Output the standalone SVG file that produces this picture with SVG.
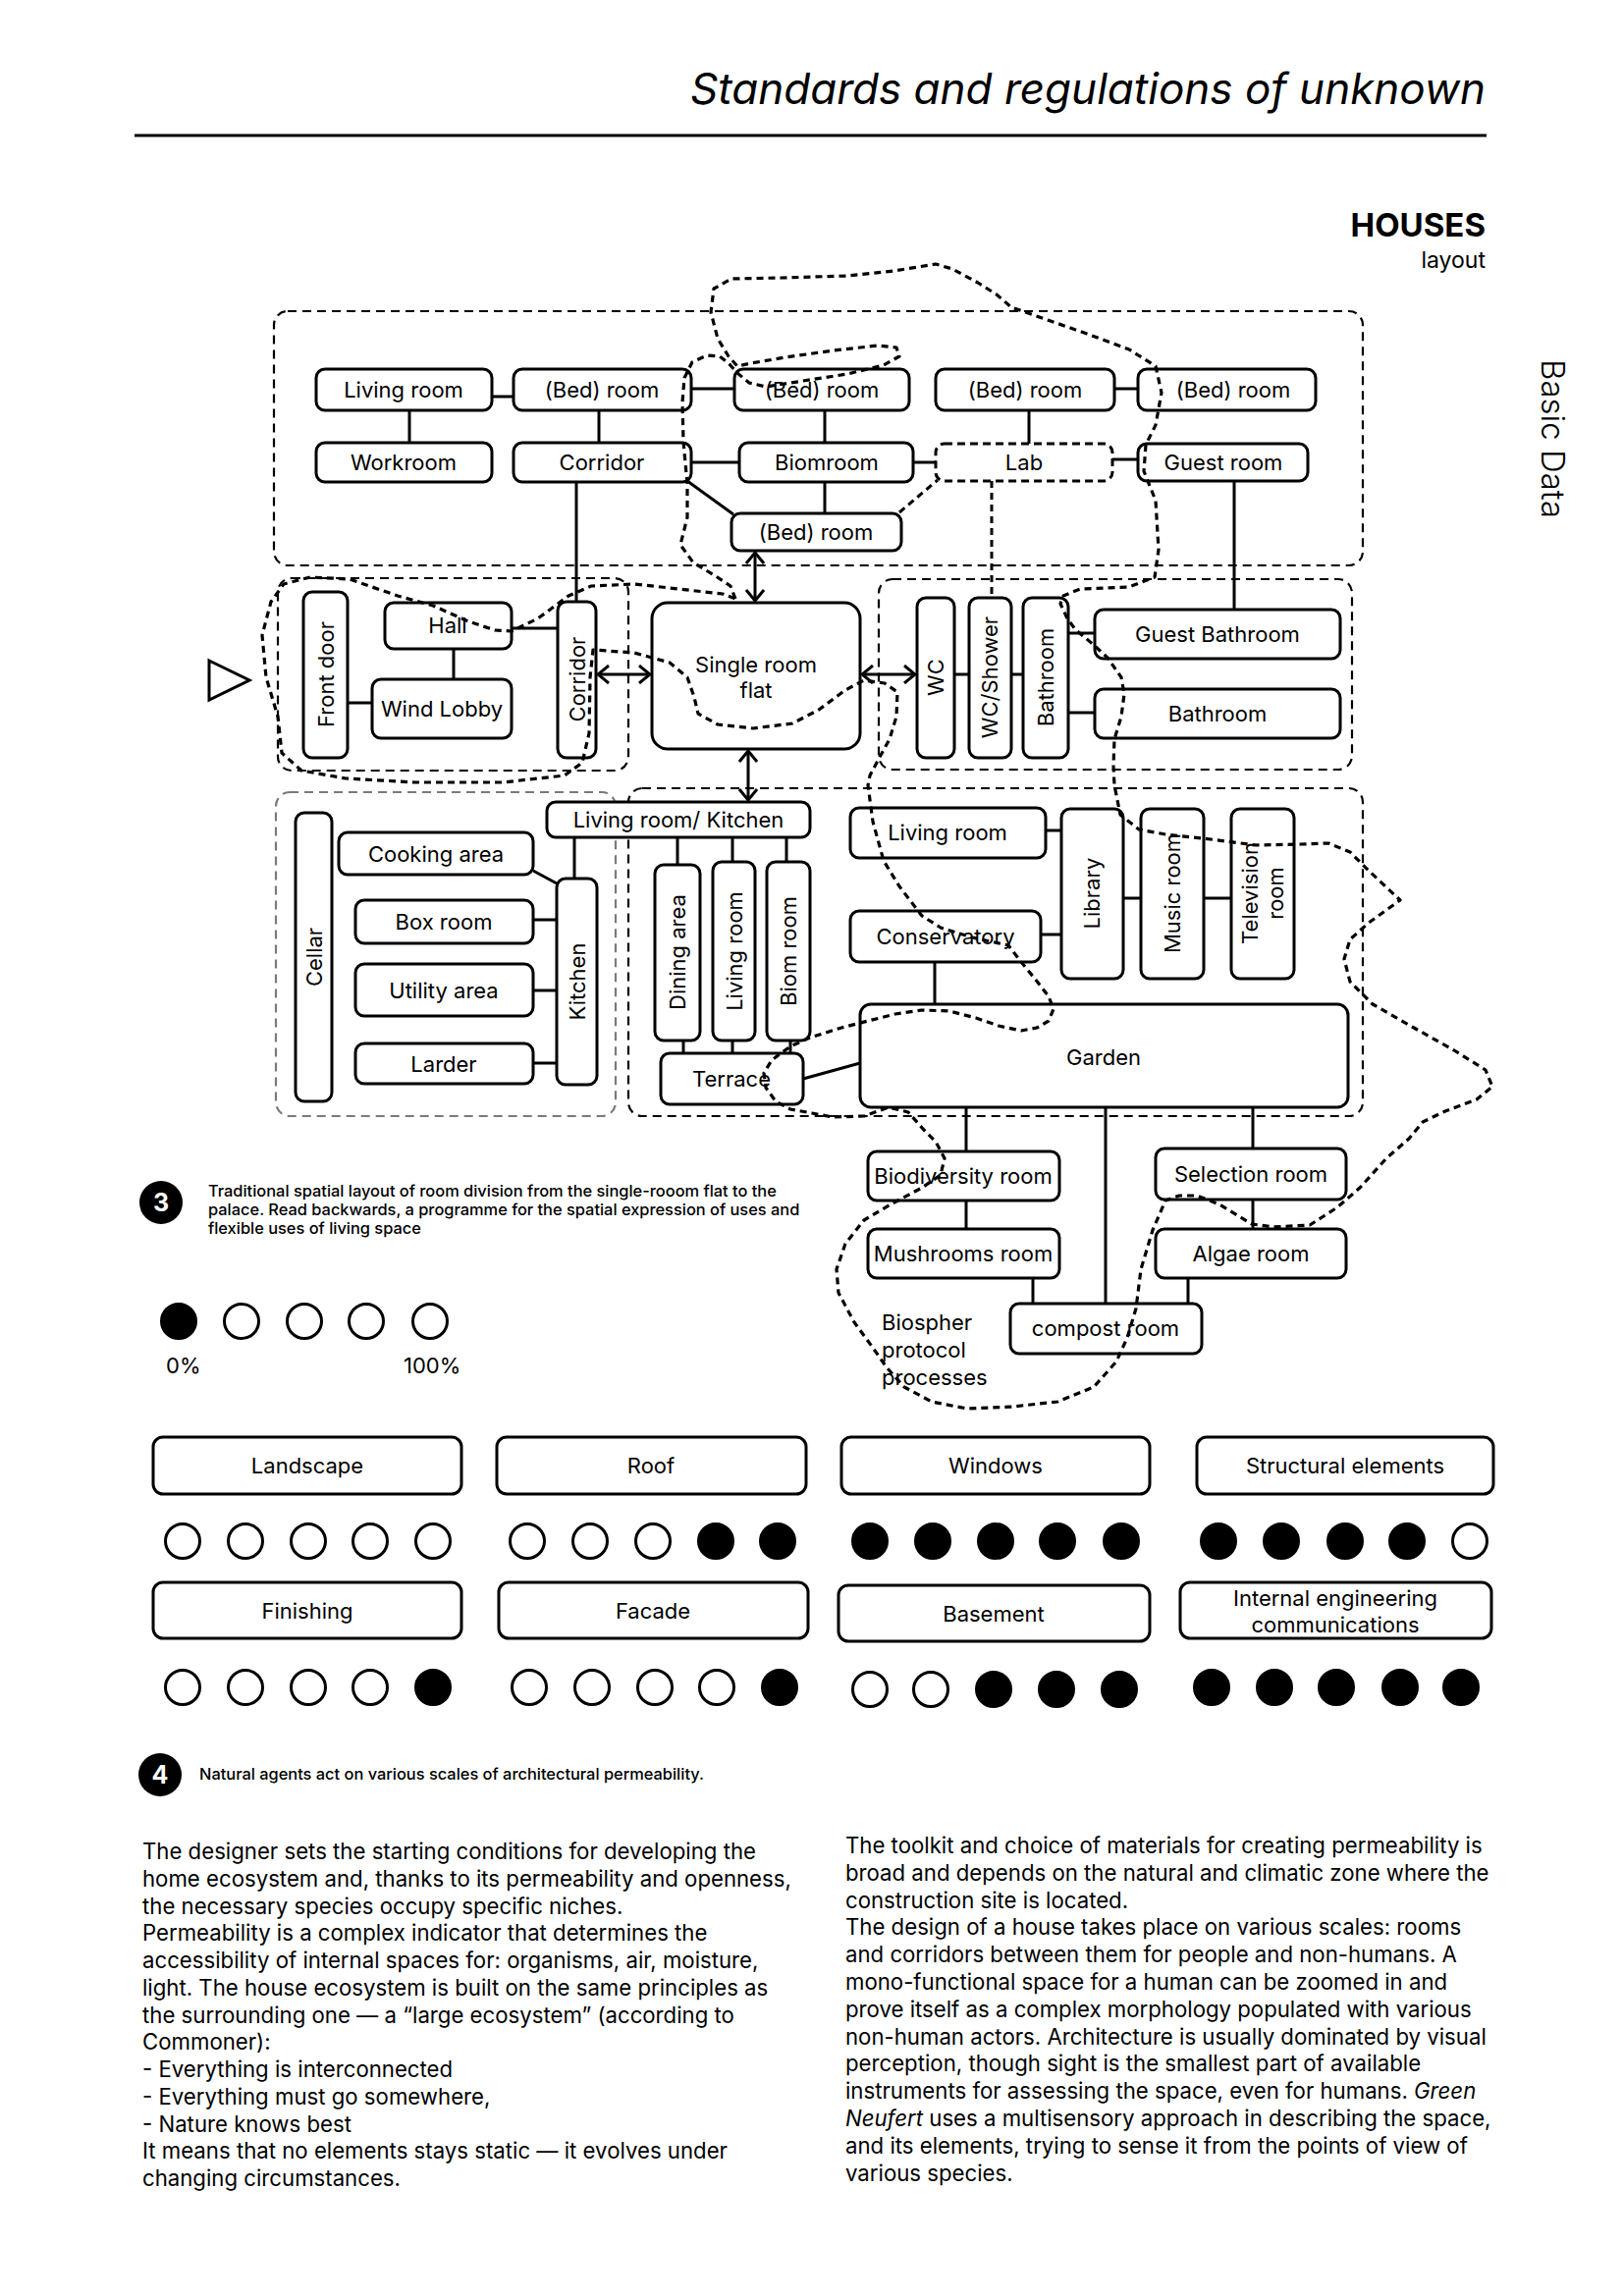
<svg xmlns="http://www.w3.org/2000/svg" width="1653" height="2339" viewBox="0 0 1653 2339">
<defs>
<style>
.box{fill:#fff;stroke:#000;stroke-width:3}
.lab{fill:#fff;stroke:#000;stroke-width:3;stroke-dasharray:8 5}
.cont{fill:none;stroke:#000;stroke-width:2.2;stroke-dasharray:9 6}
.contg{fill:none;stroke:#7a7a7a;stroke-width:2.2;stroke-dasharray:9 6}
.ln{stroke:#000;stroke-width:3;fill:none}
.dln{stroke:#000;stroke-width:3;fill:none;stroke-dasharray:7 5}
.arr{stroke:#000;stroke-width:3;fill:none;marker-start:url(#chev);marker-end:url(#chev)}
.blob{fill:none;stroke:#000;stroke-width:3.2;stroke-dasharray:7 5;stroke-linejoin:round;stroke-linecap:butt}
.t{font-family:Inter,"Liberation Sans",sans-serif;font-size:22px;text-anchor:middle;fill:#000}
.g{fill:#fff;stroke:#000;stroke-width:3}
.f{fill:#000;stroke:#000;stroke-width:3}
.body{font-family:Inter,"Liberation Sans",sans-serif;font-size:22.2px;fill:#000}
.cap{font-family:Inter,"Liberation Sans",sans-serif;font-size:16.4px;font-weight:500;fill:#000}
</style>
<marker id="chev" viewBox="0 0 14 20" refX="13" refY="10" markerWidth="14" markerHeight="20" markerUnits="userSpaceOnUse" orient="auto-start-reverse">
<path d="M2,1 L13,10 L2,19" fill="none" stroke="#000" stroke-width="3"/>
</marker>
</defs>
<rect width="1653" height="2339" fill="#fff"/>

<g id="header">
<text x="1513" y="106" font-family="Inter,'Liberation Sans',sans-serif" font-style="italic" font-size="44" text-anchor="end">Standards and regulations of unknown</text>
<line x1="137" y1="138" x2="1514" y2="138" stroke="#000" stroke-width="3"/>
<text x="1513" y="241" font-family="Inter,'Liberation Sans',sans-serif" font-weight="700" font-size="33" text-anchor="end">HOUSES</text>
<text x="1513" y="273" font-family="Inter,'Liberation Sans',sans-serif" font-size="23" text-anchor="end">layout</text>
<text transform="translate(1570,447) rotate(90)" font-family="Inter,'Liberation Sans',sans-serif" font-weight="300" font-size="33" text-anchor="middle">Basic Data</text>
</g>

<g id="containers">
<rect class="cont" x="279" y="317" width="1109" height="259" rx="14"/>
<rect class="cont" x="283" y="589" width="357" height="196" rx="14"/>
<rect class="cont" x="895" y="590" width="482" height="194" rx="14"/>
<rect class="contg" x="281" y="807" width="346" height="330" rx="14"/>
<rect class="cont" x="640" y="803" width="748" height="334" rx="14"/>
</g>

<g id="entry">
<path d="M213,673 L254,693 L213,713 Z" fill="none" stroke="#000" stroke-width="3"/>
</g>

<g id="connectors">
<line class="ln" x1="501" y1="404" x2="523" y2="404"/>
<line class="ln" x1="417" y1="418" x2="417" y2="451"/>
<line class="ln" x1="610" y1="418" x2="610" y2="451"/>
<line class="ln" x1="704" y1="396" x2="748" y2="396"/>
<line class="ln" x1="704" y1="471" x2="753" y2="471"/>
<line class="ln" x1="840" y1="418" x2="840" y2="451"/>
<line class="ln" x1="840" y1="491" x2="840" y2="523"/>
<line class="ln" x1="700" y1="490" x2="747" y2="524"/>
<line class="ln" x1="1135" y1="396" x2="1159" y2="396"/>
<line class="ln" x1="1048" y1="418" x2="1048" y2="452"/>
<line class="ln" x1="1133" y1="468" x2="1159" y2="468"/>
<line class="ln" x1="930" y1="471" x2="953" y2="471"/>
<line class="dln" x1="916" y1="522" x2="955" y2="489"/>
<line class="dln" x1="1010" y1="490" x2="1010" y2="609"/>
<line class="ln" x1="1257" y1="490" x2="1257" y2="621"/>
<line class="ln" x1="587" y1="491" x2="587" y2="613"/>
<line class="ln" x1="462" y1="661" x2="462" y2="692"/>
<line class="ln" x1="354" y1="716" x2="379" y2="716"/>
<line class="ln" x1="521" y1="640" x2="568" y2="640"/>
<line class="ln" x1="972" y1="687" x2="987" y2="687"/>
<line class="ln" x1="1030" y1="687" x2="1042" y2="687"/>
<line class="ln" x1="1088" y1="645" x2="1115" y2="645"/>
<line class="ln" x1="1088" y1="726" x2="1115" y2="726"/>
<line class="ln" x1="543" y1="887" x2="567" y2="900"/>
<line class="ln" x1="543" y1="937" x2="567" y2="937"/>
<line class="ln" x1="543" y1="1009" x2="567" y2="1009"/>
<line class="ln" x1="543" y1="1083" x2="567" y2="1083"/>
<line class="ln" x1="585" y1="853" x2="585" y2="895"/>
<line class="ln" x1="690" y1="853" x2="690" y2="881"/>
<line class="ln" x1="746" y1="853" x2="746" y2="878"/>
<line class="ln" x1="801" y1="853" x2="801" y2="878"/>
<line class="ln" x1="696" y1="1060" x2="696" y2="1073"/>
<line class="ln" x1="746" y1="1060" x2="746" y2="1073"/>
<line class="ln" x1="805" y1="1060" x2="805" y2="1073"/>
<line class="ln" x1="818" y1="1099" x2="876" y2="1083"/>
<line class="ln" x1="1065" y1="846" x2="1081" y2="846"/>
<line class="ln" x1="1060" y1="952" x2="1081" y2="952"/>
<line class="ln" x1="1144" y1="915" x2="1162" y2="915"/>
<line class="ln" x1="1226" y1="915" x2="1254" y2="915"/>
<line class="ln" x1="952" y1="980" x2="952" y2="1023"/>
<line class="ln" x1="984" y1="1128" x2="984" y2="1173"/>
<line class="ln" x1="984" y1="1223" x2="984" y2="1252"/>
<line class="ln" x1="1126" y1="1128" x2="1126" y2="1328"/>
<line class="ln" x1="1276" y1="1128" x2="1276" y2="1170"/>
<line class="ln" x1="1276" y1="1222" x2="1276" y2="1252"/>
<line class="ln" x1="1052" y1="1302" x2="1052" y2="1328"/>
<line class="ln" x1="1210" y1="1302" x2="1210" y2="1328"/>
<line class="arr" x1="769" y1="563" x2="769" y2="612"/>
<line class="arr" x1="609" y1="687" x2="662" y2="687"/>
<line class="arr" x1="878" y1="687" x2="932" y2="687"/>
<line class="arr" x1="762" y1="765" x2="762" y2="815"/>
</g>

<g id="n-living1"><rect class="box" x="322" y="376" width="179" height="42" rx="9"/><text class="t" x="411" y="405">Living room</text></g>
<g id="n-bed1"><rect class="box" x="523" y="376" width="181" height="42" rx="9"/><text class="t" x="613" y="405">(Bed) room</text></g>
<g id="n-bed2"><rect class="box" x="748" y="376" width="178" height="42" rx="9"/><text class="t" x="837" y="405">(Bed) room</text></g>
<g id="n-bed3"><rect class="box" x="953" y="376" width="182" height="42" rx="9"/><text class="t" x="1044" y="405">(Bed) room</text></g>
<g id="n-bed4"><rect class="box" x="1159" y="376" width="181" height="42" rx="9"/><text class="t" x="1256" y="405">(Bed) room</text></g>
<g id="n-work"><rect class="box" x="322" y="451" width="179" height="40" rx="9"/><text class="t" x="411" y="479">Workroom</text></g>
<g id="n-corridor1"><rect class="box" x="523" y="451" width="181" height="40" rx="9"/><text class="t" x="613" y="479">Corridor</text></g>
<g id="n-biomroom"><rect class="box" x="753" y="451" width="177" height="40" rx="9"/><text class="t" x="842" y="479">Biomroom</text></g>
<g id="n-lab"><rect class="lab" x="953" y="452" width="180" height="38" rx="9"/><text class="t" x="1043" y="479">Lab</text></g>
<g id="n-guest"><rect class="box" x="1159" y="452" width="173" height="38" rx="9"/><text class="t" x="1246" y="479">Guest room</text></g>
<g id="n-bed5"><rect class="box" x="745" y="523" width="173" height="38" rx="9"/><text class="t" x="831" y="550">(Bed) room</text></g>

<g id="n-frontdoor"><rect class="box" x="309" y="603" width="45" height="169" rx="9"/><text class="t" transform="translate(332,687) rotate(-90)" y="8">Front door</text></g>
<g id="n-hall"><rect class="box" x="392" y="614" width="129" height="47" rx="9"/><text class="t" x="456" y="645">Hall</text></g>
<g id="n-wind"><rect class="box" x="379" y="692" width="142" height="60" rx="9"/><text class="t" x="450" y="730">Wind Lobby</text></g>
<g id="n-corridor2"><rect class="box" x="568" y="613" width="39" height="159" rx="9"/><text class="t" transform="translate(588,692) rotate(-90)" y="8">Corridor</text></g>
<g id="n-single"><rect class="box" x="664" y="614" width="212" height="149" rx="16"/><text class="t" x="770" y="685">Single room</text><text class="t" x="770" y="711">flat</text></g>

<g id="n-wc"><rect class="box" x="934" y="609" width="38" height="163" rx="9"/><text class="t" transform="translate(953,690) rotate(-90)" y="8">WC</text></g>
<g id="n-wcshower"><rect class="box" x="987" y="609" width="43" height="163" rx="9"/><text class="t" transform="translate(1008,690) rotate(-90)" y="8">WC/Shower</text></g>
<g id="n-bathroom1"><rect class="box" x="1042" y="609" width="46" height="163" rx="9"/><text class="t" transform="translate(1065,690) rotate(-90)" y="8">Bathroom</text></g>
<g id="n-guestbath"><rect class="box" x="1115" y="621" width="250" height="50" rx="9"/><text class="t" x="1240" y="654">Guest Bathroom</text></g>
<g id="n-bathroom2"><rect class="box" x="1115" y="702" width="250" height="50" rx="9"/><text class="t" x="1240" y="735">Bathroom</text></g>

<g id="n-cellar"><rect class="box" x="301" y="828" width="37" height="294" rx="9"/><text class="t" transform="translate(320,975) rotate(-90)" y="8">Cellar</text></g>
<g id="n-cooking"><rect class="box" x="345" y="848" width="198" height="43" rx="9"/><text class="t" x="444" y="878">Cooking area</text></g>
<g id="n-box"><rect class="box" x="362" y="917" width="181" height="44" rx="9"/><text class="t" x="452" y="947">Box room</text></g>
<g id="n-utility"><rect class="box" x="362" y="982" width="181" height="53" rx="9"/><text class="t" x="452" y="1017">Utility area</text></g>
<g id="n-larder"><rect class="box" x="362" y="1063" width="181" height="41" rx="9"/><text class="t" x="452" y="1092">Larder</text></g>
<g id="n-kitchen"><rect class="box" x="567" y="895" width="41" height="210" rx="9"/><text class="t" transform="translate(588,1000) rotate(-90)" y="8">Kitchen</text></g>
<g id="n-lrk"><rect class="box" x="557" y="817" width="268" height="36" rx="9"/><text class="t" x="691" y="843">Living room/ Kitchen</text></g>
<g id="n-dining"><rect class="box" x="667" y="881" width="46" height="179" rx="9"/><text class="t" transform="translate(690,970) rotate(-90)" y="8">Dining area</text></g>
<g id="n-living2"><rect class="box" x="726" y="878" width="43" height="182" rx="9"/><text class="t" transform="translate(748,969) rotate(-90)" y="8">Living room</text></g>
<g id="n-biom"><rect class="box" x="781" y="878" width="44" height="182" rx="9"/><text class="t" transform="translate(803,969) rotate(-90)" y="8">Biom room</text></g>
<g id="n-terrace"><rect class="box" x="673" y="1073" width="145" height="52" rx="9"/><text class="t" x="745" y="1107">Terrace</text></g>

<g id="n-living3"><rect class="box" x="866" y="823" width="199" height="51" rx="9"/><text class="t" x="965" y="856">Living room</text></g>
<g id="n-conservatory"><rect class="box" x="866" y="928" width="194" height="52" rx="9"/><text class="t" x="963" y="962">Conservatory</text></g>
<g id="n-library"><rect class="box" x="1081" y="824" width="63" height="173" rx="9"/><text class="t" transform="translate(1112,910) rotate(-90)" y="8">Library</text></g>
<g id="n-music"><rect class="box" x="1162" y="824" width="64" height="173" rx="9"/><text class="t" transform="translate(1194,910) rotate(-90)" y="8">Music room</text></g>
<g id="n-tv"><rect class="box" x="1254" y="824" width="64" height="173" rx="9"/><text class="t" transform="translate(1286,910) rotate(-90)"><tspan x="0" y="-5">Television</tspan><tspan x="0" y="21">room</tspan></text></g>
<g id="n-garden"><rect class="box" x="876" y="1023" width="497" height="105" rx="11"/><text class="t" x="1124" y="1085">Garden</text></g>

<g id="n-biodiv"><rect class="box" x="884" y="1173" width="195" height="50" rx="9"/><text class="t" x="981" y="1206">Biodiversity room</text></g>
<g id="n-mushrooms"><rect class="box" x="884" y="1252" width="195" height="50" rx="9"/><text class="t" x="981" y="1285">Mushrooms room</text></g>
<g id="n-selection"><rect class="box" x="1177" y="1170" width="194" height="52" rx="9"/><text class="t" x="1274" y="1204">Selection room</text></g>
<g id="n-algae"><rect class="box" x="1177" y="1252" width="194" height="50" rx="9"/><text class="t" x="1274" y="1285">Algae room</text></g>
<g id="n-compost"><rect class="box" x="1029" y="1328" width="195" height="51" rx="9"/><text class="t" x="1126" y="1361">compost room</text></g>
<g id="biosphere-label"><text class="t" style="text-anchor:start" x="898"><tspan x="898" y="1355">Biospher</tspan><tspan x="898" y="1383">protocol</tspan><tspan x="898" y="1411">processes</tspan></text></g>

<g id="blob">
<path class="blob" d="M749,610 L744,597 L729,587 L706,573 L693,555 L700,527 L700,493 L696,450 L695,410 L697,385 L705,369 L720,362 L733,363 L742,370 L751,380 L763,390 L780,394 L818,388 L863,381 L900,372 L916,363 L913,354 L894,352 L849,357 L800,364 L765,370 L751,373 L742,363 L731,345 L724,318 L727,294 L745,284 L796,283 L863,281 L910,276 L935,272 L953,269 L970,274 L996,288 L1015,300 L1030,313 L1070,327 L1107,340 L1150,356 L1177,373 L1183,400 L1177,433 L1167,453 L1165,480 L1177,510 L1180,560 L1176,588 L1150,598 L1100,600 L1083,607 L1080,615 L1087,630 L1095,641 L1114,657 L1128,670 L1142,690 L1145,707 L1142,730 L1135,753 L1134,780 L1135,800 L1141,830 L1160,845 L1187,850 L1233,855 L1279,861 L1325,860 L1353,859 L1375,868 L1394,887 L1426,917 L1394,940 L1375,957 L1369,977 L1375,1000 L1398,1023 L1440,1047 L1481,1070 L1513,1090 L1520,1107 L1504,1120 L1472,1132 L1449,1143 L1435,1160 L1412,1180 L1385,1210 L1362,1230 L1334,1248 L1297,1250 L1275,1247 L1242,1227 L1219,1218 L1201,1218 L1187,1223 L1174,1253 L1162,1293 L1157,1333 L1148,1363 L1137,1387 L1114,1413 L1077,1428 L1031,1433 L985,1435 L949,1428 L921,1413 L903,1393 L889,1373 L870,1347 L854,1317 L852,1293 L861,1267 L880,1243 L907,1227 L939,1210 L958,1197 L962,1180 L953,1163 L940,1150 L925,1133 L905,1128 L880,1137 L848,1138 L827,1134 L805,1130 L790,1122 L780,1108 L778,1093 L786,1080 L805,1066 L825,1057 L857,1047 L884,1040 L912,1033 L939,1029 L967,1030 L994,1037 L1017,1045 L1040,1050 L1056,1047 L1068,1040 L1073,1028 L1068,1015 L1054,997 L1040,980 L1027,963 L990,955 L958,945 L939,933 L916,903 L900,877 L889,837 L884,800 L886,790 L895,773 L906,753 L913,730 L914,705 L901,696 L880,693 L861,703 L834,723 L807,737 L767,742 L731,738 L711,727 L707,710 L700,690 L682,675 L646,665 L604,662 L601,690 L600,747 L593,777 L575,790 L512,797 L423,797 L352,793 L307,785 L287,767 L283,730 L271,690 L267,647 L276,613 L289,595 L316,588 L356,590 L405,607 L441,617 L477,633 L504,642 L521,643 L548,630 L579,607 L602,597 L646,595 L691,600 L736,605 Z"/>
</g>

<g id="caption3">
<circle cx="164" cy="1225" r="22" fill="#000"/>
<text x="164" y="1234" font-family="Inter,'Liberation Sans',sans-serif" font-weight="700" font-size="25" fill="#fff" text-anchor="middle">3</text>
<text class="cap"><tspan x="212" y="1219">Traditional spatial layout of room division from the single-rooom flat to the</tspan><tspan x="212" y="1238">palace. Read backwards, a programme for the spatial expression of uses and</tspan><tspan x="212" y="1257">flexible uses of living space</tspan></text>
</g>

<g id="legend">
<circle class="f" cx="182" cy="1346" r="17.5"/>
<circle class="g" cx="246" cy="1346" r="17.5"/>
<circle class="g" cx="310" cy="1346" r="17.5"/>
<circle class="g" cx="373" cy="1346" r="17.5"/>
<circle class="g" cx="438" cy="1346" r="17.5"/>
<text class="t" style="text-anchor:start" x="169" y="1399">0%</text>
<text class="t" style="text-anchor:start" x="411" y="1399">100%</text>
</g>

<g id="scale-boxes">
<g id="b-landscape"><rect class="box" x="156" y="1464" width="314" height="58" rx="10"/><text class="t" x="313" y="1501">Landscape</text></g>
<g id="b-roof"><rect class="box" x="506" y="1464" width="315" height="58" rx="10"/><text class="t" x="663" y="1501">Roof</text></g>
<g id="b-windows"><rect class="box" x="857" y="1464" width="314" height="58" rx="10"/><text class="t" x="1014" y="1501">Windows</text></g>
<g id="b-structural"><rect class="box" x="1219" y="1464" width="302" height="58" rx="10"/><text class="t" x="1370" y="1501">Structural elements</text></g>
<g id="b-finishing"><rect class="box" x="156" y="1612" width="314" height="57" rx="10"/><text class="t" x="313" y="1649">Finishing</text></g>
<g id="b-facade"><rect class="box" x="508" y="1612" width="315" height="57" rx="10"/><text class="t" x="665" y="1649">Facade</text></g>
<g id="b-basement"><rect class="box" x="854" y="1615" width="317" height="57" rx="10"/><text class="t" x="1012" y="1652">Basement</text></g>
<g id="b-internal"><rect class="box" x="1202" y="1612" width="317" height="57" rx="10"/><text class="t" x="1360" y="1636">Internal engineering</text><text class="t" x="1360" y="1663">communications</text></g>
</g>

<g id="dots">
<circle class="g" cx="186" cy="1570" r="17.5"/><circle class="g" cx="250" cy="1570" r="17.5"/><circle class="g" cx="314" cy="1570" r="17.5"/><circle class="g" cx="377" cy="1570" r="17.5"/><circle class="g" cx="441" cy="1570" r="17.5"/>
<circle class="g" cx="537" cy="1570" r="17.5"/><circle class="g" cx="601" cy="1570" r="17.5"/><circle class="g" cx="665" cy="1570" r="17.5"/><circle class="f" cx="729" cy="1570" r="17.5"/><circle class="f" cx="792" cy="1570" r="17.5"/>
<circle class="f" cx="886" cy="1570" r="17.5"/><circle class="f" cx="950" cy="1570" r="17.5"/><circle class="f" cx="1014" cy="1570" r="17.5"/><circle class="f" cx="1077" cy="1570" r="17.5"/><circle class="f" cx="1142" cy="1570" r="17.5"/>
<circle class="f" cx="1241" cy="1570" r="17.5"/><circle class="f" cx="1305" cy="1570" r="17.5"/><circle class="f" cx="1370" cy="1570" r="17.5"/><circle class="f" cx="1433" cy="1570" r="17.5"/><circle class="g" cx="1497" cy="1570" r="17.5"/>
<circle class="g" cx="186" cy="1719" r="17.5"/><circle class="g" cx="250" cy="1719" r="17.5"/><circle class="g" cx="314" cy="1719" r="17.5"/><circle class="g" cx="377" cy="1719" r="17.5"/><circle class="f" cx="441" cy="1719" r="17.5"/>
<circle class="g" cx="539" cy="1719" r="17.5"/><circle class="g" cx="603" cy="1719" r="17.5"/><circle class="g" cx="667" cy="1719" r="17.5"/><circle class="g" cx="730" cy="1719" r="17.5"/><circle class="f" cx="794" cy="1719" r="17.5"/>
<circle class="g" cx="886" cy="1721" r="17.5"/><circle class="g" cx="948" cy="1721" r="17.5"/><circle class="f" cx="1012" cy="1721" r="17.5"/><circle class="f" cx="1076" cy="1721" r="17.5"/><circle class="f" cx="1140" cy="1721" r="17.5"/>
<circle class="f" cx="1234" cy="1719" r="17.5"/><circle class="f" cx="1298" cy="1719" r="17.5"/><circle class="f" cx="1361" cy="1719" r="17.5"/><circle class="f" cx="1426" cy="1719" r="17.5"/><circle class="f" cx="1488" cy="1719" r="17.5"/>
</g>

<g id="caption4">
<circle cx="163" cy="1808" r="22" fill="#000"/>
<text x="163" y="1817" font-family="Inter,'Liberation Sans',sans-serif" font-weight="700" font-size="25" fill="#fff" text-anchor="middle">4</text>
<text class="cap" x="203" y="1813">Natural agents act on various scales of architectural permeability.</text>
</g>

<g id="text-left">
<text class="body">
<tspan x="145" y="1894">The designer sets the starting conditions for developing the</tspan>
<tspan x="145" y="1921.75">home ecosystem and, thanks to its permeability and openness,</tspan>
<tspan x="145" y="1949.5">the necessary species occupy specific niches.</tspan>
<tspan x="145" y="1977.25">Permeability is a complex indicator that determines the</tspan>
<tspan x="145" y="2005">accessibility of internal spaces for: organisms, air, moisture,</tspan>
<tspan x="145" y="2032.75">light. The house ecosystem is built on the same principles as</tspan>
<tspan x="145" y="2060.5">the surrounding one — a “large ecosystem” (according to</tspan>
<tspan x="145" y="2088.25">Commoner):</tspan>
<tspan x="145" y="2116">- Everything is interconnected</tspan>
<tspan x="145" y="2143.75">- Everything must go somewhere,</tspan>
<tspan x="145" y="2171.5">- Nature knows best</tspan>
<tspan x="145" y="2199.25">It means that no elements stays static — it evolves under</tspan>
<tspan x="145" y="2227">changing circumstances.</tspan>
</text>
</g>

<g id="text-right">
<text class="body">
<tspan x="861" y="1888">The toolkit and choice of materials for creating permeability is</tspan>
<tspan x="861" y="1915.8">broad and depends on the natural and climatic zone where the</tspan>
<tspan x="861" y="1943.6">construction site is located.</tspan>
<tspan x="861" y="1971.4">The design of a house takes place on various scales: rooms</tspan>
<tspan x="861" y="1999.2">and corridors between them for people and non-humans. A</tspan>
<tspan x="861" y="2027">mono-functional space for a human can be zoomed in and</tspan>
<tspan x="861" y="2054.8">prove itself as a complex morphology populated with various</tspan>
<tspan x="861" y="2082.6">non-human actors. Architecture is usually dominated by visual</tspan>
<tspan x="861" y="2110.4">perception, though sight is the smallest part of available</tspan>
<tspan x="861" y="2138.2">instruments for assessing the space, even for humans. <tspan font-style="italic">Green</tspan></tspan>
<tspan x="861" y="2166"><tspan font-style="italic">Neufert</tspan> uses a multisensory approach in describing the space,</tspan>
<tspan x="861" y="2193.8">and its elements, trying to sense it from the points of view of</tspan>
<tspan x="861" y="2221.6">various species.</tspan>
</text>
</g>
</svg>
